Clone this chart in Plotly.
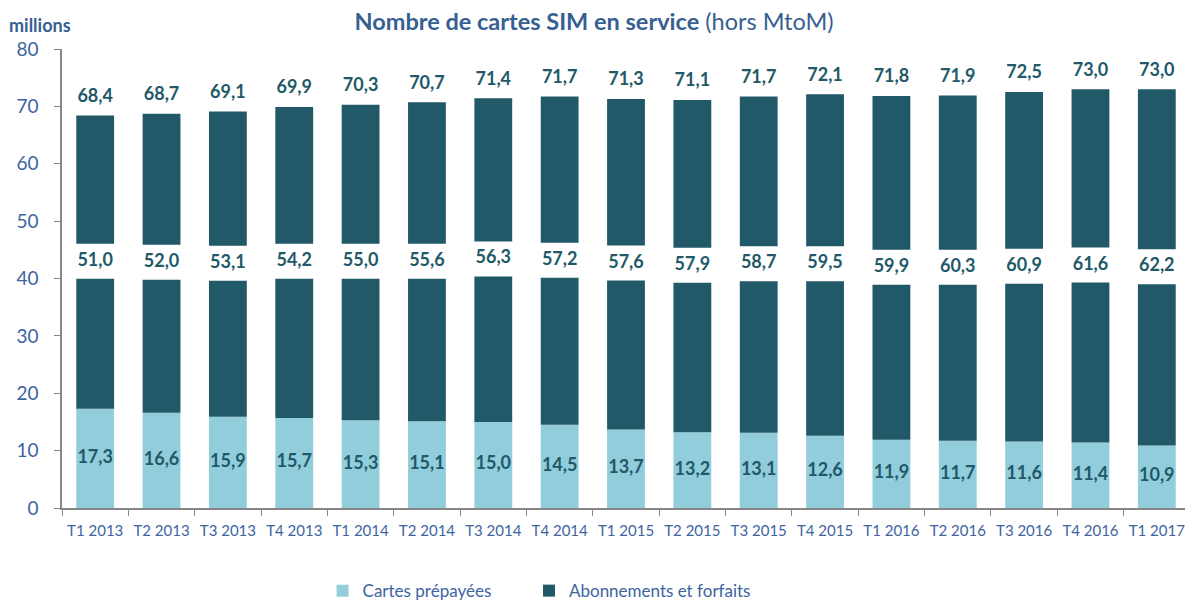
import plotly.graph_objects as go

categories = ["T1 2013", "T2 2013", "T3 2013", "T4 2013", "T1 2014", "T2 2014", "T3 2014", "T4 2014",
              "T1 2015", "T2 2015", "T3 2015", "T4 2015", "T1 2016", "T2 2016", "T3 2016", "T4 2016", "T1 2017"]
prepaid = [17.3, 16.6, 15.9, 15.7, 15.3, 15.1, 15.0, 14.5, 13.7, 13.2, 13.1, 12.6, 11.9, 11.7, 11.6, 11.4, 10.9]
subscriptions = [51.0, 52.0, 53.1, 54.2, 55.0, 55.6, 56.3, 57.2, 57.6, 57.9, 58.7, 59.5, 59.9, 60.3, 60.9, 61.6, 62.2]
totals = [68.4, 68.7, 69.1, 69.9, 70.3, 70.7, 71.4, 71.7, 71.3, 71.1, 71.7, 72.1, 71.8, 71.9, 72.5, 73.0, 73.0]
# axis-break position on each bar (value where the lower dark part stops)
break_start = [39.95, 39.8, 39.6, 39.95, 39.95, 39.95, 40.35, 40.15, 39.65, 39.25, 39.5, 39.5,
               38.9, 38.9, 39.1, 39.3, 39.0]
break_size = 6.1
y_ticks = [0, 10, 20, 30, 40, 50, 60, 70, 80]

LIGHT = "#92CDDC"
DARK = "#215968"
BLUE = "#3E64A0"
TITLE_BLUE = "#376092"
FONT = "Lato"

# the page body keeps an 8 px default margin, so the figure is 8 px smaller
OFF = 8
W, H = 1193 - OFF, 604 - OFF


def fr(v):
    return f"{v:.1f}".replace(".", ",")


lower_h = [b - p for b, p in zip(break_start, prepaid)]
upper_base = [b + break_size for b in break_start]
upper_h = [t - u for t, u in zip(totals, upper_base)]
gap_mid = [b + break_size / 2 for b in break_start]
pre_mid = [p / 2 for p in prepaid]

fig = go.Figure()
bw = 0.57
fig.add_trace(go.Bar(x=categories, y=prepaid, base=0, name="Cartes prépayées", legend="legend",
                     marker=dict(color=LIGHT, line=dict(width=0)), width=bw))
fig.add_trace(go.Bar(x=categories, y=lower_h, base=prepaid, name="Abonnements et forfaits", legend="legend2",
                     marker=dict(color=DARK, line=dict(width=0)), width=bw))
fig.add_trace(go.Bar(x=categories, y=upper_h, base=upper_base, showlegend=False,
                     marker=dict(color=DARK, line=dict(width=0)), width=bw))

lab_font = dict(family=FONT, size=18, color=DARK)
fig.add_trace(go.Scatter(x=categories, y=pre_mid, mode="text", text=[f"<b>{fr(v)}</b>" for v in prepaid],
                         textposition="middle center", textfont=lab_font, showlegend=False))
fig.add_trace(go.Scatter(x=categories, y=gap_mid, mode="text", text=[f"<b>{fr(v)}</b>" for v in subscriptions],
                         textposition="middle center", textfont=lab_font, showlegend=False))
fig.add_trace(go.Scatter(x=categories, y=totals, mode="markers+text", text=[f"<b>{fr(v)}</b>" for v in totals],
                         marker=dict(size=13, opacity=0), textposition="top center", textfont=lab_font,
                         showlegend=False))

leg_common = dict(orientation="h", xanchor="left", y=-0.181, yanchor="middle",
                  font=dict(family=FONT, size=17, color=BLUE), bgcolor="rgba(0,0,0,0)")
fig.update_layout(
    width=W, height=H,
    margin=dict(l=62 - OFF, r=3, t=49 - OFF, b=96, autoexpand=False),
    paper_bgcolor="white", plot_bgcolor="white",
    barmode="overlay",
    font=dict(family=FONT, color=BLUE),
    title=dict(text="<b>Nombre de cartes SIM en service</b> (hors MtoM)",
               x=(594 - OFF) / W, xref="container", xanchor="center",
               y=1 - (22 - OFF) / H, yref="container", yanchor="middle",
               font=dict(family=FONT, size=23.5, color=TITLE_BLUE)),
    legend=dict(x=0.231, **leg_common),
    legend2=dict(x=0.414, **leg_common),
    xaxis=dict(type="category", range=[-0.5, len(categories) - 0.5],
               showline=True, linecolor="#868686", linewidth=1.5,
               ticks="outside", tickson="boundaries", ticklen=6, tickcolor="#868686", tickangle=0,
               automargin=False, ticklabelstandoff=8,
               tickfont=dict(family=FONT, size=15, color=BLUE), showgrid=False, fixedrange=True),
    yaxis=dict(range=[0, 80], tickvals=y_ticks, showline=True, linecolor="#868686", linewidth=1.5,
               ticks="outside", ticklen=6, tickcolor="#868686", ticklabelstandoff=12, automargin=False,
               tickfont=dict(family=FONT, size=19, color=BLUE), showgrid=False, zeroline=False),
    annotations=[dict(text="<b>millions</b>", xref="paper", yref="paper", x=-0.049, y=1.052,
                      xanchor="left", yanchor="middle", showarrow=False,
                      font=dict(family=FONT, size=18, color=TITLE_BLUE))],
)

fig.write_html("out.html")
